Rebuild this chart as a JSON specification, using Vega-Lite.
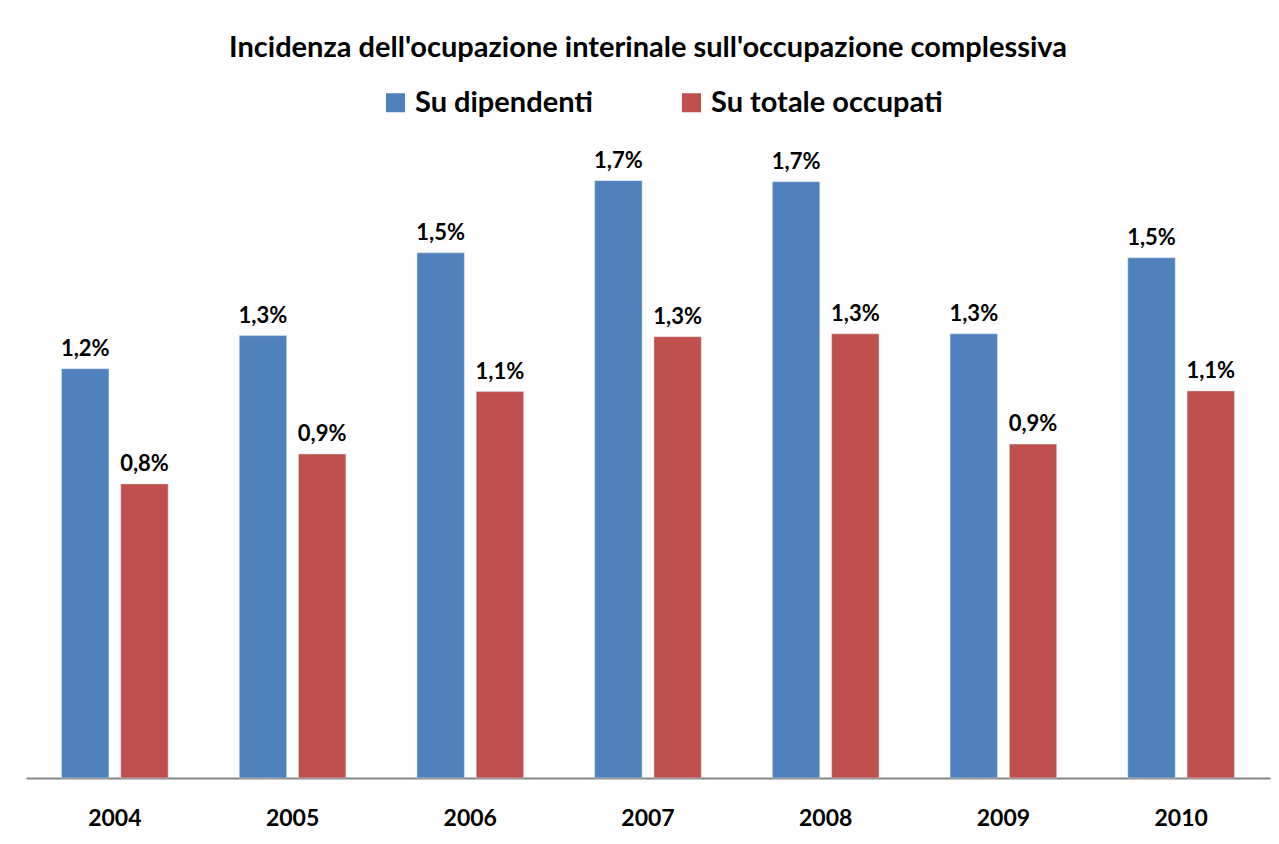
{
  "$schema": "https://vega.github.io/schema/vega-lite/v6.json",
  "autosize": {"type": "none"},
  "width": 1244,
  "height": 634,
  "padding": {"left": 26, "top": 144, "right": 9, "bottom": 66},
  "background": "white",
  "config": {
    "locale": {"number": {"decimal": ",", "thousands": ".", "grouping": [3], "currency": ["€", ""]}},
    "view": {"stroke": null},
    "font": "Lato"
  },
  "title": {
    "text": "Incidenza dell'ocupazione interinale sull'occupazione complessiva",
    "fontSize": 29,
    "fontWeight": "bold",
    "font": "Lato",
    "color": "black",
    "anchor": "middle",
    "offset": 25
  },
  "data": {
    "values": [
      {"anno": "2004", "serie": "Su dipendenti", "valore": 0.01162},
      {"anno": "2004", "serie": "Su totale occupati", "valore": 0.00835},
      {"anno": "2005", "serie": "Su dipendenti", "valore": 0.01256},
      {"anno": "2005", "serie": "Su totale occupati", "valore": 0.0092},
      {"anno": "2006", "serie": "Su dipendenti", "valore": 0.01491},
      {"anno": "2006", "serie": "Su totale occupati", "valore": 0.01097},
      {"anno": "2007", "serie": "Su dipendenti", "valore": 0.01696},
      {"anno": "2007", "serie": "Su totale occupati", "valore": 0.01253},
      {"anno": "2008", "serie": "Su dipendenti", "valore": 0.01693},
      {"anno": "2008", "serie": "Su totale occupati", "valore": 0.01261},
      {"anno": "2009", "serie": "Su dipendenti", "valore": 0.01261},
      {"anno": "2009", "serie": "Su totale occupati", "valore": 0.00948},
      {"anno": "2010", "serie": "Su dipendenti", "valore": 0.01477},
      {"anno": "2010", "serie": "Su totale occupati", "valore": 0.01099}
    ]
  },
  "encoding": {
    "x": {
      "field": "anno", "type": "nominal",
      "scale": {"paddingInner": 0.4, "paddingOuter": 0.2},
      "axis": {
        "title": null, "labelAngle": 0, "labelFontSize": 23, "labelFontWeight": "bold",
        "labelColor": "black", "labelFont": "Lato", "ticks": false, "labelPadding": 29,
        "domainColor": "#868686", "domainWidth": 2
      }
    },
    "xOffset": {"field": "serie", "type": "nominal", "scale": {"paddingInner": 0.2}},
    "y": {
      "field": "valore", "type": "quantitative",
      "scale": {"domain": [0, 0.018], "nice": false},
      "axis": null
    }
  },
  "layer": [
    {
      "mark": {"type": "bar", "stroke": "#dfe6f0", "strokeWidth": 0.5},
      "encoding": {
        "color": {
          "field": "serie", "type": "nominal",
          "scale": {"domain": ["Su dipendenti", "Su totale occupati"], "range": ["#4F81BD", "#C0504D"]},
          "legend": {
            "title": null, "orient": "none", "legendX": 355, "legendY": -56, "direction": "horizontal",
            "labelFontSize": 29, "labelFontWeight": "bold", "labelColor": "black", "labelFont": "Lato",
            "labelLimit": 0,
            "symbolType": "square", "symbolSize": 361, "symbolStrokeWidth": 0,
            "columnPadding": 84, "labelOffset": 5
          }
        }
      }
    },
    {
      "mark": {"type": "text", "dy": -13, "baseline": "alphabetic", "fontSize": 22, "fontWeight": "bold", "font": "Lato", "color": "black"},
      "encoding": {
        "text": {"field": "valore", "type": "quantitative", "format": ".1%"}
      }
    }
  ]
}
